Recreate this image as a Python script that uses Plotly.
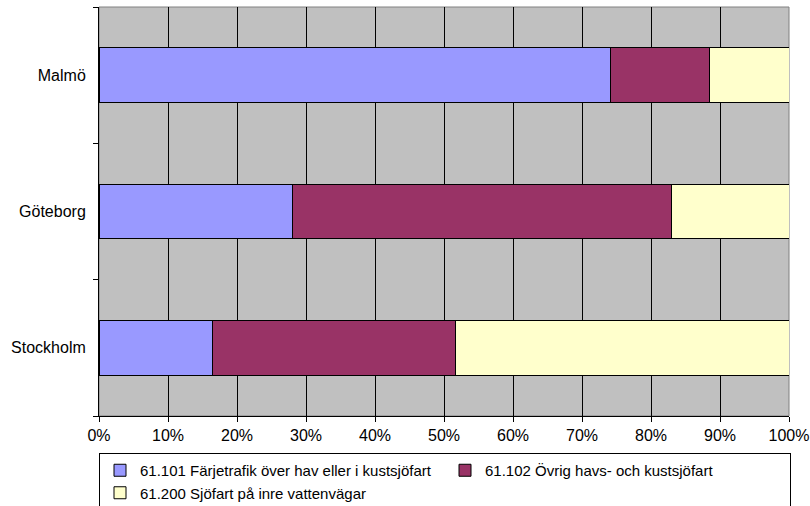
import plotly.graph_objects as go

cities = ["Stockholm", "Göteborg", "Malmö"]
series_names = [
    "61.101 Färjetrafik över hav eller i kustsjöfart",
    "61.102 Övrig havs- och kustsjöfart",
    "61.200 Sjöfart på inre vattenvägar",
]
ferry = [16.5, 28.0, 74.2]
other_sea = [35.2, 55.0, 14.3]
inland = [48.3, 17.0, 11.5]
colors = ["#9999FF", "#993366", "#FFFFCC"]

fig = go.Figure()
for name, vals, col in zip(series_names, [ferry, other_sea, inland], colors):
    fig.add_trace(go.Bar(
        y=cities, x=vals, name=name, orientation="h",
        marker=dict(color=col, line=dict(color="black", width=1)),
    ))

fig.update_layout(
    barmode="stack",
    bargap=0.6,
    width=810, height=506,
    margin=dict(l=99, r=21, t=7, b=90, autoexpand=False),
    paper_bgcolor="white",
    plot_bgcolor="#C0C0C0",
    font=dict(family="Liberation Sans, Arial, sans-serif", size=16, color="black"),
    showlegend=True,
    legend=dict(
        orientation="h", x=0, xanchor="left", y=-0.0905, yanchor="top",
        bordercolor="black", borderwidth=1, bgcolor="white",
        font=dict(size=15), itemwidth=30, traceorder="normal",
        tracegroupgap=0, entrywidth=300, entrywidthmode="pixels",
    ),
    shapes=[dict(type="rect", xref="paper", yref="paper", x0=0, x1=1, y0=0, y1=1,
                 line=dict(color="#808080", width=1), layer="below")],
)
fig.update_xaxes(
    range=[0, 100], dtick=10, ticksuffix="%",
    showgrid=True, gridcolor="black", gridwidth=1,
    showline=True, linecolor="black", linewidth=1,
    ticks="outside", ticklen=5, tickcolor="black",
    zeroline=False, fixedrange=True, automargin=False,
)
fig.update_yaxes(
    type="category", categoryorder="array", categoryarray=cities,
    tickson="boundaries", ticks="outside", ticklen=5, tickcolor="black",
    showgrid=False, showline=True, linecolor="black", linewidth=1,
    ticklabelstandoff=9, fixedrange=True, automargin=False,
)
fig.write_html("out.html", config={"displayModeBar": False},
               post_script="document.body.style.margin='0';")
